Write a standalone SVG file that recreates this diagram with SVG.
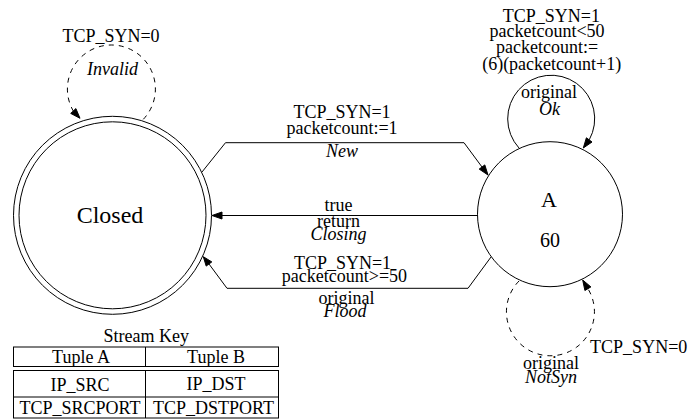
<svg xmlns="http://www.w3.org/2000/svg" width="691" height="420" viewBox="0 0 691 420">
  <style>
    text { font-family: "Liberation Serif", "Times New Roman", serif; fill: #000; text-anchor: middle; }
    .lbl { font-size: 18px; }
    .it { font-style: italic; }
    .node { fill: none; stroke: #000; stroke-width: 1; }
    .edge { fill: none; stroke: #000; stroke-width: 1; }
    .dash { stroke-dasharray: 5,5; }
    .head { fill: #000; stroke: #000; stroke-width: 1; }
    .cell { fill: none; stroke: #000; stroke-width: 1; }
  </style>
  <rect width="691" height="420" fill="#fff"/>

  <!-- states -->
  <g id="node-closed">
    <circle class="node" cx="112.5" cy="215.3" r="99"/>
    <circle class="node" cx="112.5" cy="215.3" r="93.5"/>
    <text x="110" y="222.5" font-size="24">Closed</text>
  </g>
  <g id="node-a">
    <circle class="node" cx="550" cy="214.2" r="72.5"/>
    <text x="549" y="206.5" font-size="22">A</text>
    <text x="550" y="246.5" font-size="20">60</text>
  </g>

  <!-- transitions -->
  <g id="edges">
    <g id="edge-invalid">
      <path class="edge dash" d="M143.3,119.3 A44,44 0 1 0 73.3,111"/>
      <polygon class="head" points="80,118.3 70.7,113.4 75.9,108.6"/>
      <text class="lbl" x="111" y="41.7">TCP_SYN=0</text>
      <text class="lbl it" x="112.5" y="75">Invalid</text>
    </g>
    <g id="edge-new">
      <path class="edge" d="M202,172 L225.5,142.7 L464,142.7 L482,167"/>
      <polygon class="head" points="488,175 479.2,169.1 484.8,164.9"/>
      <text class="lbl" x="342" y="118.3">TCP_SYN=1</text>
      <text class="lbl" x="342" y="134.3">packetcount:=1</text>
      <text class="lbl it" x="342" y="156.7">New</text>
    </g>
    <g id="edge-closing">
      <path class="edge" d="M477.5,215.5 L222,215.5"/>
      <polygon class="head" points="212,215.5 222,212 222,219"/>
      <text class="lbl" x="338.5" y="211">true</text>
      <text class="lbl" x="338.5" y="226.7">return</text>
      <text class="lbl it" x="338.5" y="240">Closing</text>
    </g>
    <g id="edge-flood">
      <path class="edge" d="M491,257 L468,288.3 L227,288.3 L209,264"/>
      <polygon class="head" points="203.3,256.7 206.2,266.1 211.8,261.9"/>
      <text class="lbl" x="342.5" y="268.5">TCP_SYN=1</text>
      <text class="lbl" x="344.5" y="282.3">packetcount&gt;=50</text>
      <text class="lbl" x="346.5" y="304">original</text>
      <text class="lbl it" x="345" y="316.7">Flood</text>
    </g>
    <g id="edge-ok">
      <path class="edge" d="M519,148 A43.5,43.5 0 1 1 589.2,139.9"/>
      <polygon class="head" points="583.3,148 586.4,137.8 592,142"/>
      <text class="lbl" x="551.3" y="21.5">TCP_SYN=1</text>
      <text class="lbl" x="547" y="37">packetcount&lt;50</text>
      <text class="lbl" x="547" y="53">packetcount:=</text>
      <text class="lbl" x="551.7" y="70">(6)(packetcount+1)</text>
      <text class="lbl" x="549" y="98.3">original</text>
      <text class="lbl it" x="549.5" y="115">Ok</text>
    </g>
    <g id="edge-notsyn">
      <path class="edge dash" d="M519,281 A44,44 0 1 0 587.9,288.7"/>
      <polygon class="head" points="582.7,280 584.9,290.5 590.9,286.9"/>
      <text class="lbl" x="638.7" y="353.3">TCP_SYN=0</text>
      <text class="lbl" x="551" y="369.3">original</text>
      <text class="lbl it" x="551" y="383.3">NotSyn</text>
    </g>
  </g>

  <!-- stream key table -->
  <g id="stream-key">
    <text class="lbl" x="146.3" y="341.7">Stream Key</text>
    <rect class="cell" x="13.5" y="347" width="265" height="19.5"/>
    <line class="cell" x1="145.5" y1="347" x2="145.5" y2="366.5"/>
    <rect class="cell" x="13.5" y="370.5" width="265" height="47.5"/>
    <line class="cell" x1="13.5" y1="397" x2="278.5" y2="397"/>
    <line class="cell" x1="145.5" y1="370.5" x2="145.5" y2="418"/>
    <text class="lbl" x="81" y="362.5">Tuple A</text>
    <text class="lbl" x="216" y="362.5">Tuple B</text>
    <text class="lbl" x="80" y="390.5">IP_SRC</text>
    <text class="lbl" x="216" y="390">IP_DST</text>
    <text class="lbl" x="80" y="414">TCP_SRCPORT</text>
    <text class="lbl" x="213.5" y="414">TCP_DSTPORT</text>
  </g>
</svg>
